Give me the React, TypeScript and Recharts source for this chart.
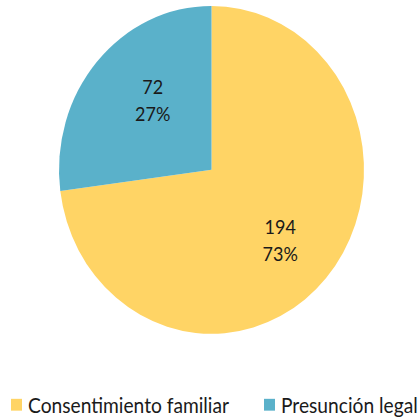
import { PieChart, Pie, Cell, Legend } from "recharts"

const categories = ["Consentimiento familiar", "Presunción legal"]
const counts = [194, 72]
const percents = ["73%", "27%"]
const colors = ["#FFD465", "#5AB1CA"]

const data = categories.map((name, i) => ({ name, value: counts[i], pct: percents[i] }))

const FONT = "Lato, 'Open Sans', sans-serif"
const STRETCH = 1.075 // the reference is a little taller than wide

const RADIAN = Math.PI / 180
// small nudges so the labels sit where Excel put them
const labelNudge = [
  [0, 5],
  [10, -4],
]

const renderLabel = (props: any) => {
  const { cx, cy, midAngle, outerRadius, index } = props
  const r = outerRadius * 0.6
  const x = cx + r * Math.cos(-midAngle * RADIAN) + labelNudge[index][0]
  const y = cy + r * Math.sin(-midAngle * RADIAN) + labelNudge[index][1]
  return (
    <text x={x} textAnchor="middle" fill="#1a1a1a" fontSize={18} fontFamily={FONT}>
      <tspan x={x} y={y - 6}>{counts[index]}</tspan>
      <tspan x={x} y={y + 19}>{percents[index]}</tspan>
    </text>
  )
}

const renderLegend = () => (
  <div style={{ position: "relative", height: 24, fontFamily: FONT, fontSize: 19.2, color: "#1a1a1a" }}>
    {categories.map((c, i) => (
      <div
        key={c}
        style={{ position: "absolute", left: i === 0 ? 11 : 264, top: 0, display: "flex", alignItems: "center", whiteSpace: "nowrap" }}
      >
        <span style={{ width: 11, height: 11, background: colors[i], display: "inline-block", marginRight: 6 }} />
        <span>{c}</span>
      </div>
    ))}
  </div>
)

export default function App() {
  const h = 420 / STRETCH
  return (
    <div style={{ position: "absolute", left: 0, top: 0, width: 420, height: 420, overflow: "hidden", background: "#fff" }}>
      <div style={{ width: 420, height: h, transform: `scaleY(${STRETCH})`, transformOrigin: "top left" }}>
        <PieChart width={420} height={h} margin={{ top: 0, right: 0, bottom: 0, left: 0 }}>
          <Pie
            data={data}
            dataKey="value"
            nameKey="name"
            cx={211.5}
            cy={158}
            outerRadius={152.5}
            startAngle={90}
            endAngle={-270}
            stroke="none"
            label={renderLabel}
            labelLine={false}
            isAnimationActive={false}
          >
            {data.map((d, i) => (
              <Cell key={d.name} fill={colors[i]} />
            ))}
          </Pie>
          <Legend
            verticalAlign="bottom"
            content={renderLegend}
            wrapperStyle={{ top: 365, bottom: "auto", left: 0, width: 420 }}
          />
        </PieChart>
      </div>
    </div>
  )
}
